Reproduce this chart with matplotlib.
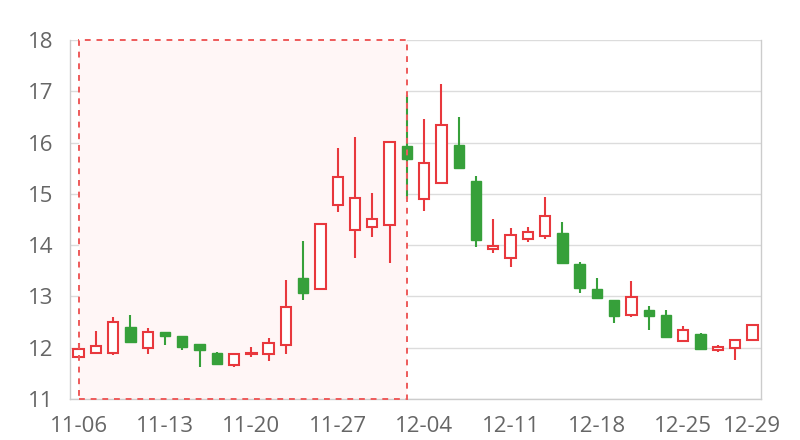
import matplotlib
matplotlib.use("Agg")
import matplotlib.pyplot as plt
from matplotlib.patches import Rectangle

plt.rcParams['font.family'] = ['Open Sans', 'DejaVu Sans']

dates = ["11-06", "11-07", "11-08", "11-09", "11-10",
         "11-13", "11-14", "11-15", "11-16", "11-17",
         "11-20", "11-21", "11-22", "11-23", "11-24",
         "11-27", "11-28", "11-29", "11-30", "12-01",
         "12-04", "12-05", "12-06", "12-07", "12-08",
         "12-11", "12-12", "12-13", "12-14", "12-15",
         "12-18", "12-19", "12-20", "12-21", "12-22",
         "12-25", "12-26", "12-27", "12-28", "12-29"]

opens = [11.81, 11.90, 11.90, 12.41, 12.00, 12.30, 12.23, 12.08, 11.90, 11.67,
         11.87, 11.88, 12.05, 13.35, 13.14, 14.79, 14.29, 14.36, 14.39, 15.93,
         14.89, 15.21, 15.95, 15.26, 13.92, 13.75, 14.12, 14.18, 14.24, 13.63,
         13.14, 12.93, 12.63, 12.73, 12.63, 12.14, 12.26, 11.96, 12.00, 12.16]
closes = [11.97, 12.04, 12.51, 12.11, 12.30, 12.23, 12.01, 11.95, 11.69, 11.88,
          11.90, 12.10, 12.79, 13.06, 14.42, 15.32, 14.92, 14.51, 16.01, 15.68,
          15.60, 16.35, 15.50, 14.10, 13.99, 14.20, 14.25, 14.56, 13.66, 13.16,
          12.97, 12.62, 12.99, 12.62, 12.21, 12.34, 11.98, 12.02, 12.16, 12.44]
highs = [12.10, 12.32, 12.60, 12.63, 12.38, 12.31, 12.23, 12.08, 11.92, 11.88,
         12.02, 12.19, 13.33, 14.09, 14.43, 15.89, 16.11, 15.02, 16.01, 16.92,
         16.46, 17.14, 16.49, 15.34, 14.51, 14.34, 14.36, 14.94, 14.45, 13.67,
         13.36, 12.94, 13.31, 12.82, 12.74, 12.42, 12.28, 12.06, 12.16, 12.44]
lows = [11.80, 11.88, 11.86, 12.11, 11.88, 12.05, 11.95, 11.63, 11.69, 11.63,
        11.82, 11.75, 11.87, 12.94, 13.13, 14.64, 13.75, 14.15, 13.65, 14.89,
        14.66, 15.21, 15.50, 13.97, 13.84, 13.58, 14.06, 14.12, 13.66, 13.06,
        12.97, 12.49, 12.60, 12.34, 12.18, 12.14, 11.95, 11.91, 11.76, 12.16]

tick_idx = [0, 5, 10, 15, 20, 25, 30, 35, 39]
yticks = [11, 12, 13, 14, 15, 16, 17, 18]
area_start, area_end = "11-06", "12-01"

UP = '#e8383d'
DOWN = '#36a03a'

fig = plt.figure(figsize=(8, 4.4), dpi=100)
ax = fig.add_axes([70/800, 1-399/440, (761-70)/800, (399-40)/440])

x = list(range(len(dates)))
ax.set_xlim(-0.5, len(dates) - 0.5)
ax.set_ylim(11, 18)

# grid
for yv in yticks:
    ax.axhline(yv, color='#dcdcdc', lw=1.0, zorder=0)

# mark area
xs = dates.index(area_start)
xe = dates.index(area_end)
ax.add_patch(Rectangle((xs, 11), xe - xs, 7, facecolor='#fff6f6', edgecolor='none', zorder=0.5))
ax.add_patch(Rectangle((xs, 11), xe - xs, 7, facecolor='none', edgecolor='#ee5a5a',
                       lw=1.4, ls=(0, (3, 3)), zorder=3, clip_on=False))

w = 0.6
for i in x:
    o, c, h, l = opens[i], closes[i], highs[i], lows[i]
    up = c >= o
    col = UP if up else DOWN
    top, bot = max(o, c), min(o, c)
    hgt = max(top - bot, 0.03)
    if up:
        ax.vlines(i, top, h, color=col, lw=1.5, zorder=2)
        ax.vlines(i, l, bot, color=col, lw=1.5, zorder=2)
        ax.bar(i, hgt, bottom=bot, width=w, facecolor='white', edgecolor=col, lw=1.5, zorder=2.5)
    else:
        ax.vlines(i, l, h, color=col, lw=1.5, zorder=2)
        ax.bar(i, hgt, bottom=bot, width=w, facecolor=col, edgecolor=col, lw=1.0, zorder=2.5)

ax.set_yticks(yticks)
ax.set_yticklabels([str(v) for v in yticks])
ax.set_xticks(tick_idx)
ax.set_xticklabels([dates[i] for i in tick_idx])
ax.tick_params(axis='both', length=0, labelsize=16, colors='#666666')
ax.tick_params(axis='x', pad=12)
ax.tick_params(axis='y', pad=12)

for s in ['left', 'right', 'bottom']:
    ax.spines[s].set_color('#cccccc')
    ax.spines[s].set_linewidth(1.0)
ax.spines['top'].set_visible(False)

fig.savefig('out.png', dpi=100)
